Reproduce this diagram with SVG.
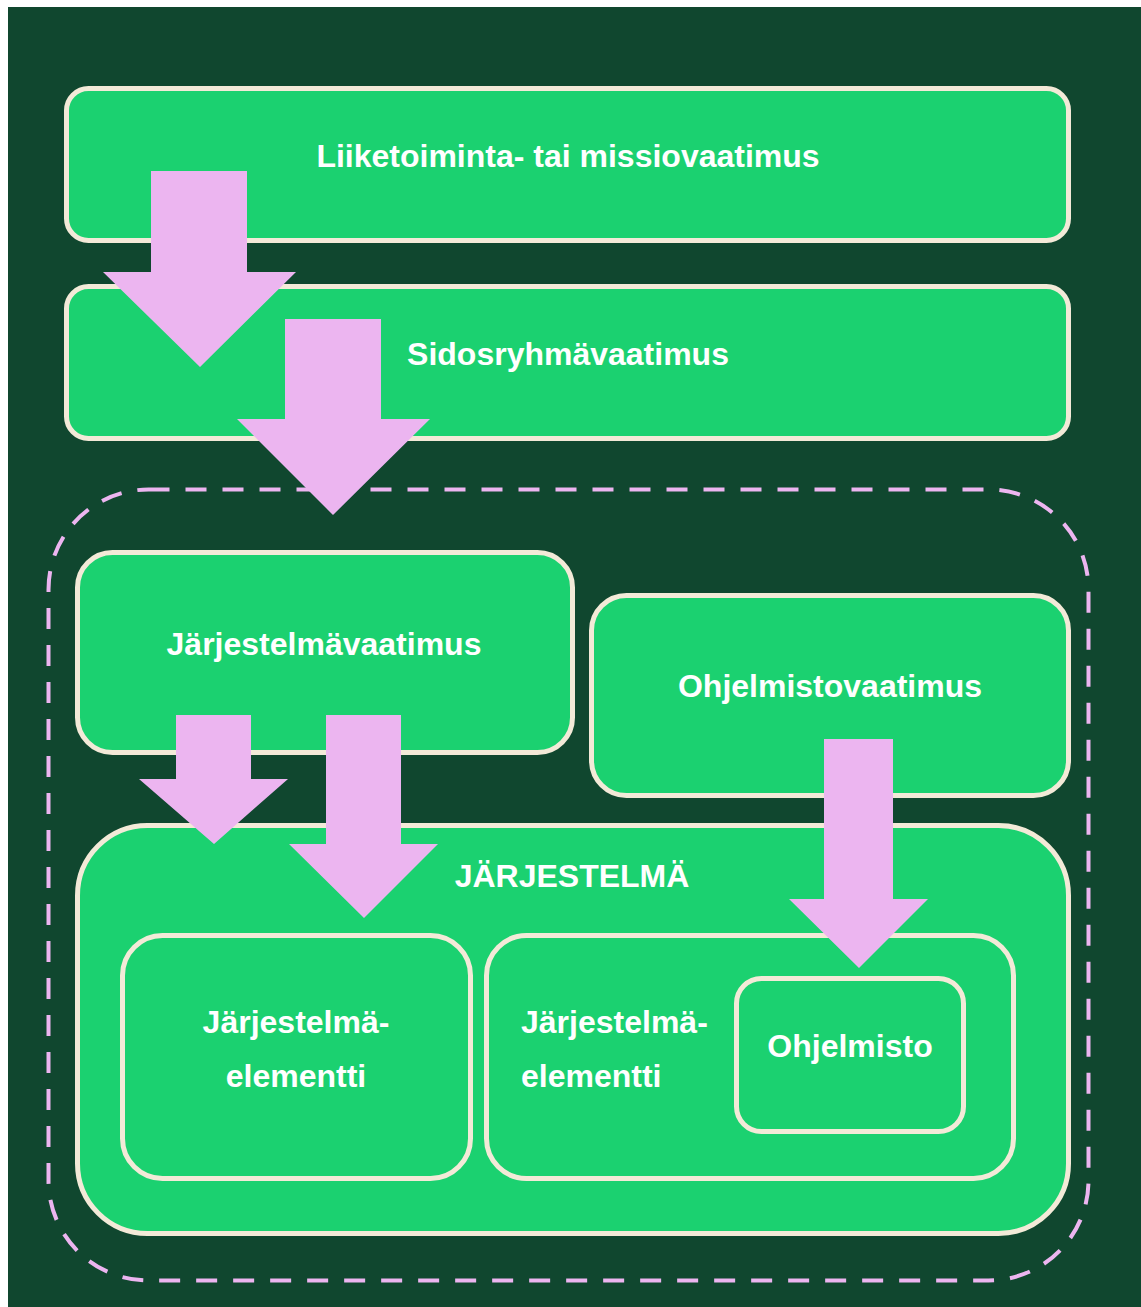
<svg xmlns="http://www.w3.org/2000/svg" width="1141" height="1307" viewBox="0 0 1141 1307">
<style>
.box{fill:#1bd170;stroke:#f3ead8;stroke-width:5}
.arr{fill:#ecb5f0}
.t{font-family:"Liberation Sans",Arial,sans-serif;font-weight:bold;font-size:32px;fill:#ffffff}
.c{text-anchor:middle}
</style>
<rect x="0" y="0" width="1141" height="1307" fill="#ffffff"/>
<rect x="8" y="7" width="1133" height="1300" fill="#10472f"/>
<g id="n1"><rect class="box" x="66.5" y="88.5" width="1002" height="152" rx="22"/><text class="t c" x="568" y="167">Liiketoiminta- tai missiovaatimus</text></g>
<g id="n2"><rect class="box" x="66.5" y="286.5" width="1002" height="152" rx="22"/><text class="t c" x="568" y="365">Sidosryhmävaatimus</text></g>
<g id="scope"><rect x="48.5" y="489.5" width="1040" height="791" rx="100" fill="none" stroke="#ecb5f0" stroke-width="4" stroke-dasharray="21 16"/></g>
<g id="n3"><rect class="box" x="77.5" y="552.5" width="495" height="200" rx="35"/><text class="t c" x="324" y="655">Järjestelmävaatimus</text></g>
<g id="n4"><rect class="box" x="591.5" y="595.5" width="477" height="200" rx="35"/><text class="t c" x="830" y="697">Ohjelmistovaatimus</text></g>
<g id="n5"><rect class="box" x="77.5" y="825.5" width="991" height="408" rx="70"/><text class="t c" x="572" y="887">JÄRJESTELMÄ</text></g>
<g id="n6"><rect class="box" x="122.5" y="935.5" width="348" height="243" rx="40"/><text class="t c" x="296" y="1033">Järjestelmä-</text><text class="t c" x="296" y="1087">elementti</text></g>
<g id="n7"><rect class="box" x="486.5" y="935.5" width="527" height="243" rx="40"/><text class="t" x="521" y="1033">Järjestelmä-</text><text class="t" x="521" y="1087">elementti</text></g>
<g id="n8"><rect class="box" x="736.5" y="978.5" width="227" height="153" rx="25"/><text class="t c" x="850" y="1057">Ohjelmisto</text></g>
<g id="connectors">
<polygon class="arr" points="151,171 247,171 247,272 296,272 200,367 103,272 151,272"/>
<polygon class="arr" points="285,319 381,319 381,419 430,419 333,515 237,419 285,419"/>
<polygon class="arr" points="176,715 251,715 251,779 288,779 214,844 139,779 176,779"/>
<polygon class="arr" points="326,715 401,715 401,844 438,844 364,918 289,844 326,844"/>
<polygon class="arr" points="824,739 893,739 893,899 928,899 859,968 789,899 824,899"/>
</g>
</svg>
